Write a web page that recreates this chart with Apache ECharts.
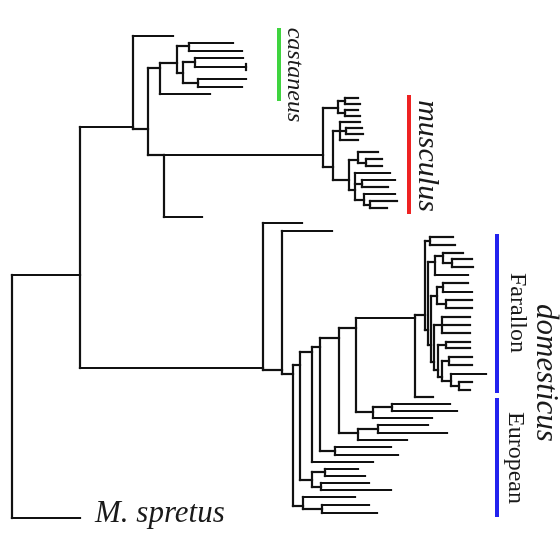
<!DOCTYPE html>
<html><head><meta charset="utf-8">
<script src="https://cdn.jsdelivr.net/npm/echarts@6/dist/echarts.min.js"></script>
<style>html,body{margin:0;padding:0;background:#fff}#c{width:560px;height:533px}</style>
</head><body><div id="c"></div>
<script>
// Tree nodes: internal = [x, y, children], leaf = [tipX, y]
const musculusClade = [323, 155, [
  [338, 108, [
    [345, 101, [[358, 98], [360, 104]]],
    [345, 113, [[358, 110], [360, 116]]]
  ]],
  [333, 167, [
    [340, 131, [[360, 122], [346, 131, [[362, 128], [363, 134]]], [358, 140]]],
    [349, 180, [
      [358, 160, [[378, 152], [366, 163, [[382, 159], [382, 166]]]]],
      [355, 190, [
        [390, 173],
        [362, 184, [[395, 180], [388, 187]]],
        [364, 200, [[395, 194], [370, 205, [[397, 201], [387, 208]]]]]
      ]]
    ]]
  ]]
]];

const castaneusClade = [160, 68, [
  [177, 63, [
    [189, 46, [[233, 43], [242, 51]]],
    [183, 73, [
      [195, 62, [[243, 58], [246, 67, [[246, 64], [246, 70]]]]],
      [198, 83, [[246, 79], [242, 87]]]
    ]]
  ]],
  [210, 94]
]];

const farallonClade = [425, 315, [
  [430, 241, [[453, 237], [455, 245]]],
  [428, 330, [
    [435, 262, [
      [443, 256, [[463, 253], [452, 263, [[472, 259], [473, 267]]]]],
      [468, 275]
    ]],
    [431, 345, [
      [437, 296, [
        [443, 287, [[468, 283], [472, 292]]],
        [446, 304, [[472, 300], [472, 308]]]
      ]],
      [434, 362, [
        [442, 325, [[470, 317], [470, 325], [470, 333]]],
        [438, 370, [
          [446, 345, [[470, 342], [470, 348]]],
          [442, 377, [
            [449, 361, [[472, 357], [472, 365]]],
            [451, 381, [[486, 374], [459, 386, [[472, 382], [470, 390]]]]]
          ]]
        ]]
      ]]
    ]]
  ]]
]];

const europeanGrade = [356, 328, [
  [415, 318, [farallonClade, [433, 397]]],
  [373, 412, [[392, 407, [[450, 404], [457, 411]]], [432, 418]]]
]];

const domesticusClade = [263, 368, [
  [302, 223],
  [282, 370, [
    [332, 231],
    [293, 374, [
      [300, 365, [
        [312, 352, [
          [320, 347, [
            [339, 338, [
              europeanGrade,
              [358, 433, [[378, 429, [[428, 425], [447, 433]]], [407, 440]]]
            ]],
            [335, 451, [[391, 447], [398, 455]]]
          ]],
          [373, 462]
        ]],
        [312, 480, [
          [325, 472, [[358, 469], [365, 476]]],
          [321, 487, [[369, 483], [391, 490]]]
        ]]
      ]],
      [303, 506, [[355, 497], [322, 509, [[369, 505], [377, 513]]]]]
    ]]
  ]]
]];

const treeRoot = [12, 400, [
  [80, 275, [
    [133, 127, [
      [173, 36],
      [148, 129, [
        castaneusClade,
        [164, 155, [musculusClade, [202, 217]]]
      ]]
    ]],
    domesticusClade
  ]],
  [80, 518]
]];

const cladeBars = [
  { name: 'castaneus', from: 28, to: 101, color: '#3fd43f' },
  { name: 'musculus', from: 95, to: 214, color: '#ee2222' },
  { name: 'Farallon', from: 234, to: 393, color: '#2222ee' },
  { name: 'European', from: 398, to: 517, color: '#2222ee' }
];
const barX = { castaneus: 279, musculus: 409, Farallon: 497, European: 497 };

function collect(node, out) {
  if (node.length === 3) {
    const [x, , ch] = node;
    const ys = ch.map(c => c[1]);
    out.push([[x, Math.min(...ys)], [x, Math.max(...ys)]]);
    ch.forEach(c => {
      out.push([[x, c[1]], [c[0], c[1]]]);
      collect(c, out);
    });
  }
  return out;
}
const segs = collect(treeRoot, []);

const chart = echarts.init(document.getElementById('c'), null, { renderer: 'canvas' });
const serif = '"Liberation Serif", "DejaVu Serif", serif';
chart.setOption({
  animation: false,
  backgroundColor: '#fff',
  grid: { left: 0, right: 0, top: 0, bottom: 0 },
  xAxis: { type: 'value', min: 0, max: 560, show: false },
  yAxis: { type: 'value', min: 0, max: 533, inverse: true, show: false },
  series: [
    {
      type: 'lines', coordinateSystem: 'cartesian2d', silent: true,
      lineStyle: { color: '#111', width: 2.2, opacity: 1, cap: 'square' },
      data: segs.map(s => ({ coords: s }))
    },
    {
      type: 'lines', coordinateSystem: 'cartesian2d', silent: true,
      data: cladeBars.map(b => ({
        coords: [[barX[b.name], b.from], [barX[b.name], b.to]],
        lineStyle: { color: b.color, width: 4, opacity: 1 }
      }))
    }
  ],
  graphic: [
    { type: 'text', x: 294, y: 75, rotation: -Math.PI / 2,
      style: { text: 'castaneus', font: 'italic 24px ' + serif, fill: '#1a1a1a', align: 'center', verticalAlign: 'middle' } },
    { type: 'text', x: 427, y: 156, rotation: -Math.PI / 2,
      style: { text: 'musculus', font: 'italic 30px ' + serif, fill: '#1a1a1a', align: 'center', verticalAlign: 'middle' } },
    { type: 'text', x: 517, y: 313, rotation: -Math.PI / 2,
      style: { text: 'Farallon', font: '24px ' + serif, fill: '#1a1a1a', align: 'center', verticalAlign: 'middle' } },
    { type: 'text', x: 515, y: 458, rotation: -Math.PI / 2,
      style: { text: 'European', font: '24px ' + serif, fill: '#1a1a1a', align: 'center', verticalAlign: 'middle' } },
    { type: 'text', x: 545, y: 373, rotation: -Math.PI / 2,
      style: { text: 'domesticus', font: 'italic 31px ' + serif, fill: '#1a1a1a', align: 'center', verticalAlign: 'middle' } },
    { type: 'text', x: 95, y: 514,
      style: { text: 'M. spretus', font: 'italic 31px ' + serif, fill: '#1a1a1a', align: 'left', verticalAlign: 'middle' } }
  ]
});
</script></body></html>
